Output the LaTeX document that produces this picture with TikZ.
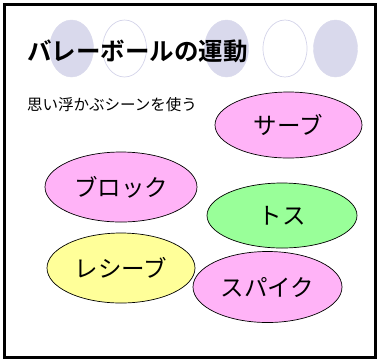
\documentclass[tikz,border=0pt]{standalone}
\usepackage{fontspec}
\usetikzlibrary{shapes.geometric}
\newfontfamily\cjk{Noto Sans CJK JP}[BoldFont={Noto Sans CJK JP Bold}]
\definecolor{lav}{HTML}{D9D9EC}
\definecolor{lavline}{HTML}{D4D4EA}
\definecolor{pinkfill}{HTML}{FFB3F7}
\definecolor{greenfill}{HTML}{99FF99}
\definecolor{yellowfill}{HTML}{FFFF99}
\tikzset{
  deco/.style={ellipse, minimum width=44pt, minimum height=57pt, inner sep=0pt},
  decofill/.style={deco, fill=lav, draw=lav},
  decoline/.style={deco, fill=white, draw=lavline, line width=0.7pt},
  bubble/.style={ellipse, draw=black, line width=0.7pt, inner sep=0pt,
    font=\cjk\fontsize{23.5}{25}\selectfont},
}
\begin{document}
\begin{tikzpicture}[x=1pt,y=-1pt]
\useasboundingbox (0,0) rectangle (379,360);
\fill[white] (0,0) rectangle (379,360);
\draw[line width=3pt] (4,4) rectangle (375,357);
% decorative circles
\node[decofill] (d1) at (71.5,48.5) {};
\node[decoline] (d2) at (124.5,48.5) {};
\node[decofill] (d3) at (226.5,48.5) {};
\node[decoline] (d4) at (285,48.5) {};
\node[decofill] (d5) at (335.5,48.5) {};
% title
\node[anchor=west, inner sep=0pt, font=\cjk\bfseries\fontsize{24.5}{26}\selectfont] (title) at (27,51) {バレーボールの運動};
\node[anchor=west, inner sep=0pt, font=\cjk\fontsize{15.5}{17}\selectfont] (sub) at (27,105) {思い浮かぶシーンを使う};
% bubbles
\node[bubble, fill=pinkfill, minimum width=147pt, minimum height=66pt] (serve) at (288.5,125) {サーブ};
\node[bubble, fill=pinkfill, minimum width=152pt, minimum height=70pt] (block) at (121,187) {ブロック};
\node[bubble, fill=greenfill, minimum width=150pt, minimum height=65pt] (toss) at (282,215.5) {トス};
\node[bubble, fill=yellowfill, minimum width=148pt, minimum height=70pt] (receive) at (121,268) {レシーブ};
\node[bubble, fill=pinkfill, minimum width=149pt, minimum height=71pt] (spike) at (267.5,287) {スパイク};
\end{tikzpicture}
\end{document}
